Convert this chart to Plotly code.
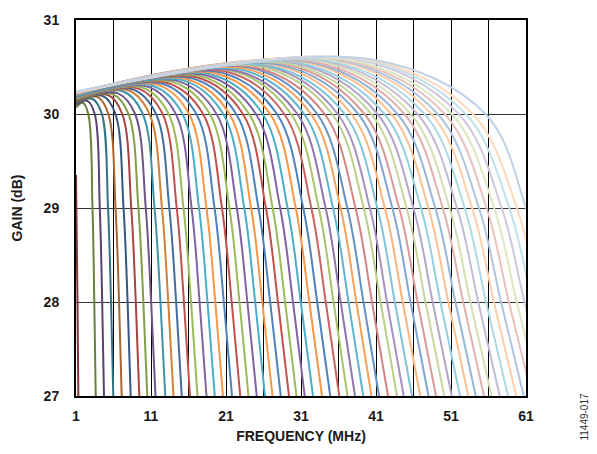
import plotly.graph_objects as go

# ---- data (MHz / dB) ----
# curve for the lowest setting (drops almost vertically at the left edge)
first_freq = [1.0, 1.2, 1.31]
first_gain = [29.35, 28.0, 27.0]

# other curves: gain at 1 MHz, peak, and the frequencies where each crosses 30/29/28/27 dB
g0 = [30.07, 30.10, 30.12, 30.13, 30.14, 30.15, 30.15, 30.16, 30.16, 30.16,
      30.17, 30.17, 30.17, 30.18, 30.18, 30.18, 30.18, 30.19, 30.19, 30.19,
      30.19, 30.20, 30.20, 30.20, 30.20, 30.20, 30.20, 30.21, 30.21, 30.21,
      30.21, 30.21, 30.21, 30.21, 30.22, 30.22, 30.22, 30.22, 30.22, 30.22,
      30.22, 30.22, 30.22, 30.22, 30.23, 30.23, 30.23, 30.23, 30.23, 30.23,
      30.23, 30.23, 30.23, 30.23, 30.23, 30.23, 30.23, 30.23, 30.24]
fpk = [1.9, 2.5, 3.2, 3.9, 4.6, 5.3, 5.9, 6.6, 7.3, 8.0,
       8.6, 9.3, 9.9, 10.6, 11.2, 11.9, 12.6, 13.2, 13.9, 14.6,
       15.2, 15.8, 16.5, 17.1, 17.7, 18.4, 19.0, 19.7, 20.4, 21.1,
       21.8, 22.4, 23.1, 23.7, 24.4, 25.1, 25.8, 26.4, 27.0, 27.7,
       28.4, 29.0, 29.7, 30.3, 31.0, 31.7, 32.3, 33.0, 33.6, 34.3,
       35.0, 35.7, 36.3, 37.0, 37.7, 38.4, 39.1, 39.8, 40.5]
gpk = [30.12, 30.14, 30.16, 30.18, 30.19, 30.20, 30.21, 30.22, 30.24, 30.25,
       30.26, 30.27, 30.28, 30.29, 30.30, 30.31, 30.32, 30.33, 30.34, 30.35,
       30.36, 30.37, 30.38, 30.39, 30.40, 30.41, 30.42, 30.43, 30.44, 30.45,
       30.46, 30.46, 30.47, 30.48, 30.49, 30.49, 30.50, 30.51, 30.51, 30.52,
       30.52, 30.53, 30.53, 30.54, 30.54, 30.55, 30.55, 30.55, 30.56, 30.56,
       30.56, 30.57, 30.57, 30.57, 30.57, 30.58, 30.58, 30.58, 30.58]
f30 = [2.64, 3.50, 4.45, 5.32, 6.26, 7.17, 8.0, 8.88, 9.91, 10.8,
       11.67, 12.55, 13.35, 14.31, 15.2, 16.08, 17.05, 17.95, 18.84, 19.74,
       20.63, 21.46, 22.36, 23.26, 24.08, 24.99, 25.89, 26.88, 27.79, 28.77,
       29.68, 30.51, 31.42, 32.33, 33.16, 34.15, 35.15, 35.9, 36.82, 37.73,
       38.64, 39.47, 40.38, 41.21, 42.12, 43.04, 43.87, 44.79, 45.62, 46.54,
       47.47, 48.39, 49.23, 50.16, 51.09, 52.03, 52.96, 53.9, 55.6]
f29 = [3.20, 4.17, 5.27, 6.27, 7.34, 8.37, 9.32, 10.3, 11.47, 12.46,
       13.44, 14.43, 15.33, 16.41, 17.4, 18.39, 19.47, 20.46, 21.45, 22.44,
       23.43, 24.34, 25.33, 26.32, 27.22, 28.22, 29.21, 30.3, 31.3, 32.38,
       33.37, 34.28, 35.27, 36.27, 37.18, 38.27, 39.36, 40.18, 41.18, 42.18,
       43.18, 44.08, 45.08, 45.99, 46.99, 47.99, 48.9, 49.9, 50.81, 51.81,
       52.82, 53.82, 54.73, 55.74, 56.75, 57.76, 58.77, 59.78, 61.0]
f28 = [3.44, 4.49, 5.67, 6.74, 7.88, 8.97, 9.98, 11.02, 12.26, 13.3,
       14.35, 15.39, 16.34, 17.48, 18.53, 19.57, 20.71, 21.76, 22.8, 23.85,
       24.89, 25.84, 26.89, 27.93, 28.88, 29.93, 30.97, 32.11, 33.16, 34.3,
       35.34, 36.29, 37.34, 38.38, 39.33, 40.47, 41.61, 42.47, 43.51, 44.56,
       45.6, 46.55, 47.6, 48.55, 49.59, 50.64, 51.59, 52.63, 53.58, 54.63,
       55.67, 56.72, 57.67, 58.71, 59.76, 60.8, 61.85, 62.89, 64.1]
f27 = [3.63, 4.73, 5.97, 7.09, 8.29, 9.44, 10.5, 11.6, 12.9, 14.0,
       15.1, 16.2, 17.2, 18.4, 19.5, 20.6, 21.8, 22.9, 24.0, 25.1,
       26.2, 27.2, 28.3, 29.4, 30.4, 31.5, 32.6, 33.8, 34.9, 36.1,
       37.2, 38.2, 39.3, 40.4, 41.4, 42.6, 43.8, 44.7, 45.8, 46.9,
       48.0, 49.0, 50.1, 51.1, 52.2, 53.3, 54.3, 55.4, 56.4, 57.5,
       58.6, 59.7, 60.7, 61.8, 62.9, 64.0, 65.1, 66.2, 67.4]

x_ticks = [1, 11, 21, 31, 41, 51, 61]
y_ticks = [27, 28, 29, 30, 31]

# ---- styling ----
base = ["#C0504D", "#9BBB59", "#8064A2", "#4BACC6", "#F79646", "#4F81BD"]
shade = [-0.32, -0.15, 0.0, 0.0, 0.0, 0.12, 0.3, 0.42, 0.55, 0.65]
FONT = "Liberation Sans, Arial, sans-serif"


def tint(hexcol, f):
    r, g, b = (int(hexcol[i:i + 2], 16) for i in (1, 3, 5))
    if f < 0:
        r, g, b = (int(c * (1 + f)) for c in (r, g, b))
    else:
        r, g, b = (int(c + (255 - c) * f) for c in (r, g, b))
    return f"rgb({r},{g},{b})"


def color_for(i):
    return tint(base[i % 6], shade[min(i // 6, len(shade) - 1)])


fig = go.Figure()
fig.add_trace(go.Scatter(x=first_freq, y=first_gain, mode="lines",
                         line=dict(color=color_for(0), width=2, shape="spline"),
                         showlegend=False, hoverinfo="skip"))
for j in range(len(f27)):
    xs = [1.0, fpk[j], f30[j], f29[j], f28[j], f27[j]]
    ys = [g0[j], gpk[j], 30.0, 29.0, 28.0, 27.0]
    fig.add_trace(go.Scatter(x=xs, y=ys, mode="lines",
                             line=dict(color=color_for(j + 1), width=2,
                                       shape="spline", smoothing=1.0),
                             showlegend=False, hoverinfo="skip"))

tick_font = dict(family=FONT, size=14, color="#1a1a1a")
title_font = dict(family=FONT, size=14, color="#1a1a1a")

L, R, T, B = 76, 71, 12, 58
W, H = 597, 454
pw, ph = W - L - R, H - T - B

fig.update_layout(
    width=W, height=H,
    margin=dict(l=L, r=R, t=T, b=B),
    paper_bgcolor="white", plot_bgcolor="white",
    showlegend=False,
    xaxis=dict(range=[1, 61], tickvals=x_ticks, ticktext=[f"<b>{v}</b>" for v in x_ticks],
               showgrid=True, gridcolor="#000000", gridwidth=1.3,
               minor=dict(dtick=5, tick0=1, showgrid=True, gridcolor="#000000", gridwidth=1.3),
               showline=True, linecolor="#000000", linewidth=2, mirror=True,
               ticks="", tickfont=tick_font, ticklabelstandoff=6, zeroline=False,
               title=dict(text="<b>FREQUENCY (MHz)</b>", font=title_font, standoff=8)),
    yaxis=dict(range=[27, 31], tickvals=y_ticks, ticktext=[f"<b>{v}</b>" for v in y_ticks],
               showgrid=True, gridcolor="#333333", gridwidth=1.3,
               showline=True, linecolor="#000000", linewidth=2, mirror=True,
               ticks="", tickfont=tick_font, ticklabelstandoff=12, zeroline=False,
               title=dict(text="<b>GAIN (dB)</b>", font=title_font, standoff=18)),
    annotations=[dict(text="11449-017", xref="paper", yref="paper",
                      x=(585 - L) / pw, y=(H - B - 417) / ph,
                      xanchor="center", yanchor="middle",
                      showarrow=False, textangle=-90,
                      font=dict(family=FONT, size=10, color="#333333"))],
)

fig.write_html("out.html")
